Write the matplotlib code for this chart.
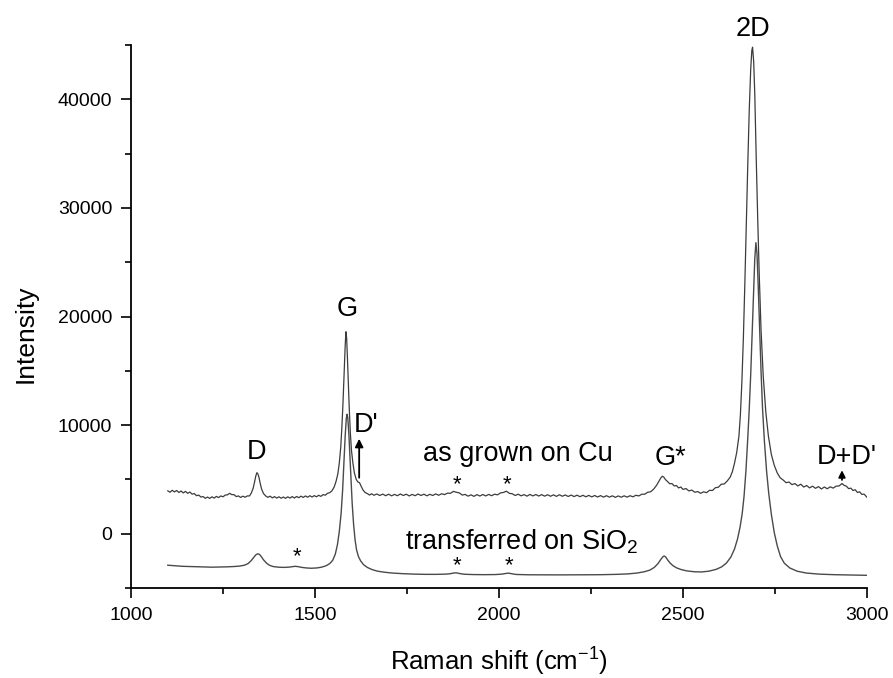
import matplotlib
matplotlib.use("Agg")
import matplotlib.pyplot as plt
from matplotlib.ticker import MultipleLocator

plt.rcParams['font.family'] = ['Liberation Sans', 'DejaVu Sans']
plt.rcParams['mathtext.fontset'] = 'custom'
plt.rcParams['mathtext.rm'] = 'Liberation Sans'
plt.rcParams['mathtext.it'] = 'Liberation Sans'
plt.rcParams['mathtext.default'] = 'regular'

# ---------------- data: as grown on Cu (offset spectrum) ----------------
cu_shift = (
    [1100, 1106, 1112, 1118, 1124, 1130, 1136, 1142, 1148, 1154, 1160, 1166, 1172, 1178, 1184, 1190, 1196,
     1202, 1208, 1214, 1220, 1226, 1232, 1238, 1244, 1250, 1256, 1262, 1268, 1274, 1280, 1286, 1292, 1298,
     1304, 1310, 1316, 1322]
    + [1327, 1332, 1336, 1339, 1342, 1345, 1348, 1351, 1355, 1360]
    + [1366, 1372, 1378, 1384, 1390, 1396, 1402, 1408, 1414, 1420, 1426, 1432, 1438, 1444, 1450, 1456,
       1462, 1468, 1474, 1480, 1486, 1492, 1498, 1504, 1510, 1516, 1522, 1528, 1534, 1540]
    + [1546, 1552, 1557, 1562, 1566, 1570, 1573, 1576, 1579, 1582, 1584, 1586, 1588, 1590, 1593, 1596,
       1599, 1603, 1607, 1612, 1617, 1621, 1625, 1630, 1636]
    + [1642, 1648, 1654, 1660, 1668, 1676, 1684, 1692, 1700, 1708, 1716, 1724, 1732, 1740, 1748, 1756,
       1764, 1772, 1780, 1788, 1796, 1804, 1812, 1820, 1828, 1836, 1844, 1852, 1860, 1868, 1876, 1884,
       1892, 1900, 1908, 1916, 1924, 1932, 1940, 1948, 1956, 1964, 1972, 1980, 1988, 1996, 2004, 2012,
       2020, 2028, 2036, 2044, 2052, 2060, 2068, 2076, 2084, 2092, 2100, 2108, 2116, 2124, 2132, 2140,
       2148, 2156, 2164, 2172, 2180, 2188, 2196, 2204, 2212, 2220, 2228, 2236, 2244, 2252, 2260, 2268,
       2276, 2284, 2292, 2300, 2308, 2316, 2324, 2332, 2340, 2348, 2356, 2364, 2372, 2380, 2388, 2396,
       2404, 2412, 2420]
    + [2428, 2434, 2440, 2444, 2448]
    + [2452, 2458, 2464, 2470, 2476, 2482, 2488, 2494, 2500, 2508, 2516, 2524, 2532, 2540, 2548, 2556,
       2564, 2572, 2580, 2588, 2596, 2604, 2612, 2620, 2628]
    + [2634, 2640, 2646, 2652, 2656, 2660, 2664, 2668, 2672, 2676, 2680, 2684, 2687, 2689, 2692, 2695,
       2699, 2703, 2707, 2712, 2718, 2725, 2732, 2740, 2748, 2756]
    + [2764, 2772, 2780, 2788, 2796, 2804, 2812, 2820, 2828, 2836, 2844, 2852, 2860, 2868, 2876, 2884,
       2892, 2900, 2908, 2916, 2924, 2932, 2938, 2944, 2950, 2956, 2962, 2968, 2974, 2980, 2986, 2992, 3000]
)
cu_intensity = (
    [3950, 3820, 4000, 3850, 3980, 3800, 3930, 3760, 3900, 3720, 3840, 3640, 3700, 3500, 3560, 3380, 3420,
     3260, 3380, 3250, 3400, 3280, 3440, 3330, 3480, 3400, 3560, 3580, 3720, 3600, 3600, 3420, 3480, 3340,
     3460, 3360, 3480, 3480]
    + [3750, 4200, 4800, 5300, 5620, 5500, 5150, 4650, 4100, 3700]
    + [3480, 3350, 3460, 3300, 3420, 3280, 3400, 3270, 3380, 3260, 3400, 3280, 3420, 3290, 3430, 3320,
       3460, 3340, 3480, 3360, 3500, 3380, 3510, 3400, 3540, 3440, 3600, 3550, 3720, 3780]
    + [3950, 4300, 4800, 5500, 6500, 8000, 9800, 12000, 14600, 17300, 18600, 18000, 16300, 14300, 11600, 9300,
       7700, 6500, 5600, 5000, 4750, 4700, 4400, 4050, 3800]
    + [3700, 3560, 3680, 3540, 3660, 3520, 3650, 3500, 3640, 3490, 3620, 3500, 3660, 3520, 3640, 3480,
       3620, 3500, 3660, 3520, 3640, 3490, 3630, 3520, 3670, 3540, 3680, 3600, 3740, 3720, 3900, 3820,
       3760, 3560, 3620, 3460, 3580, 3440, 3600, 3470, 3610, 3480, 3620, 3500, 3640, 3580, 3760, 3800,
       3920, 3720, 3680, 3520, 3640, 3490, 3600, 3460, 3620, 3480, 3610, 3470, 3600, 3460, 3590, 3450,
       3580, 3440, 3590, 3450, 3570, 3430, 3560, 3420, 3550, 3410, 3540, 3400, 3530, 3390, 3520, 3380,
       3510, 3370, 3500, 3370, 3490, 3350, 3480, 3360, 3490, 3370, 3500, 3400, 3540, 3480, 3640, 3640,
       3820, 3860, 4100]
    + [4450, 4800, 5150, 5300, 5200]
    + [5000, 4800, 4600, 4620, 4400, 4440, 4220, 4300, 4080, 4160, 3940, 4020, 3820, 3880, 3720, 3860,
       3780, 4000, 3980, 4240, 4280, 4560, 4580, 4850, 5200]
    + [5700, 6500, 7500, 9000, 11000, 14000, 18000, 23000, 28500, 34000, 39000, 42800, 44500, 44800, 43500, 40500,
       34500, 29000, 24000, 18800, 14500, 11200, 9000, 7300, 6300, 5600]
    + [5150, 4950, 4700, 4760, 4520, 4620, 4400, 4560, 4300, 4440, 4220, 4380, 4180, 4340, 4120, 4300,
       4140, 4320, 4200, 4380, 4400, 4620, 4450, 4380, 4150, 4200, 3980, 4050, 3800, 3860, 3620, 3650, 3350]
)

# ---------------- data: transferred on SiO2 ----------------
si_shift = [
    1100, 1120, 1140, 1160, 1180, 1200, 1220, 1240, 1260, 1280, 1295, 1308, 1318, 1326, 1333, 1339, 1344,
    1349, 1354, 1360, 1368, 1376, 1386, 1400, 1415, 1428, 1438, 1446, 1454, 1464, 1476, 1490, 1505, 1518,
    1530, 1540, 1548, 1555, 1561, 1566, 1571, 1575, 1579, 1582, 1585, 1587, 1589, 1592, 1595, 1598, 1601,
    1605, 1609, 1613, 1618, 1624, 1632, 1642, 1655, 1670, 1690, 1710, 1740, 1770, 1800, 1830, 1855, 1868,
    1876, 1884, 1892, 1905, 1930, 1960, 1990, 2008, 2018, 2026, 2034, 2046, 2080, 2120, 2160, 2200, 2240,
    2280, 2320, 2350, 2375, 2395, 2410, 2422, 2432, 2440, 2446, 2449, 2453, 2458, 2465, 2473, 2483, 2495,
    2510, 2530, 2550, 2570, 2590, 2605, 2618, 2630, 2640, 2648, 2655, 2661, 2666, 2671, 2676, 2680, 2684,
    2688, 2692, 2695, 2698, 2701, 2704, 2708, 2712, 2716, 2721, 2727, 2733, 2740, 2748, 2756, 2765, 2775,
    2790, 2810, 2835, 2870, 2910, 2950, 2980, 3000]
si_intensity = [
    -2900, -2950, -3000, -3020, -3050, -3060, -3080, -3070, -3050, -3020, -2980, -2900, -2750, -2500, -2200, -1950, -1850,
    -1900, -2100, -2400, -2700, -2900, -3020, -3080, -3100, -3080, -3030, -3000, -3030, -3100, -3150, -3180, -3150, -3080,
    -2950, -2750, -2450, -1900, -1000, 200, 1900, 4000, 6800, 9000, 10600, 11000, 10700, 9200, 7000, 4800, 2800,
    800, -600, -1500, -2100, -2500, -2850, -3100, -3300, -3450, -3550, -3620, -3680, -3720, -3740, -3740, -3720, -3680,
    -3620, -3600, -3660, -3730, -3760, -3770, -3760, -3720, -3660, -3630, -3680, -3750, -3780, -3790, -3790, -3790, -3780,
    -3770, -3740, -3700, -3620, -3500, -3350, -3100, -2750, -2350, -2100, -2050, -2150, -2400, -2700, -2950, -3150, -3300,
    -3420, -3500, -3520, -3450, -3280, -3050, -2700, -2150, -1400, -500, 600, 1900, 3500, 5800, 8800, 11500, 14700,
    18500, 22500, 25300, 26800, 25800, 23200, 19000, 15000, 11600, 8600, 5800, 3700, 1800, 100, -1100, -2100, -2700,
    -3150, -3450, -3620, -3720, -3770, -3800, -3820, -3830]

x_ticks = [1000, 1500, 2000, 2500, 3000]
y_ticks = [0, 10000, 20000, 30000, 40000]

# ---------------- annotations (label, x, y) ----------------
peak_labels = [("D", 1342, 7500), ("G", 1587, 20700), ("D'", 1640, 10000), ("G*", 2466, 7000),
               ("2D", 2690, 46500), ("D+D'", 2945, 7100)]
star_positions = [(1451, -2150), (1886, 4500), (2022, 4500), (1886, -2950), (2027, -2950)]

fig = plt.figure(figsize=(8.93, 6.78), dpi=100)
ax = fig.add_axes([0.1467, 0.1327, 0.9709 - 0.1467, 0.9336 - 0.1327])

ax.plot(cu_shift, cu_intensity, color='#3c3c3c', lw=0.9)
ax.plot(si_shift, si_intensity, color='#4a4a4a', lw=1.0)

ax.set_xlim(1000, 3000)
ax.set_ylim(-5000, 45000)
ax.set_xticks(x_ticks)
ax.set_yticks(y_ticks)
ax.xaxis.set_minor_locator(MultipleLocator(250))
ax.yaxis.set_minor_locator(MultipleLocator(5000))
for s in ['top', 'right']:
    ax.spines[s].set_visible(False)
for s in ['left', 'bottom']:
    ax.spines[s].set_linewidth(1.3)
ax.tick_params(which='major', direction='out', length=7.5, width=1.2, labelsize=14, pad=6)
ax.tick_params(which='minor', direction='out', length=4.5, width=1.2)

ax.set_xlabel("Raman shift (cm$^{-1}$)", fontsize=18.5, labelpad=16)
ax.set_ylabel("Intensity", fontsize=19)
ax.yaxis.set_label_coords(-0.127, 0.468)

for lab, x, y in peak_labels:
    ax.text(x, y, lab, fontsize=19.5, ha='center', va='center')
for x, y in star_positions:
    ax.text(x, y, "*", fontsize=16, ha='center', va='center')

ax.text(2052, 7300, "as grown on Cu", fontsize=19.5, ha='center', va='center')
ax.text(2063, -700, "transferred on SiO$_2$", fontsize=19.5, ha='center', va='center')

ax.annotate("", xy=(1620, 9000), xytext=(1620, 4900),
            arrowprops=dict(arrowstyle='-|>', color='black', lw=1.3, mutation_scale=12))
ax.annotate("", xy=(2932, 6100), xytext=(2932, 4700),
            arrowprops=dict(arrowstyle='-|>', color='black', lw=1.3, mutation_scale=10))

fig.savefig("out.png", dpi=100)
